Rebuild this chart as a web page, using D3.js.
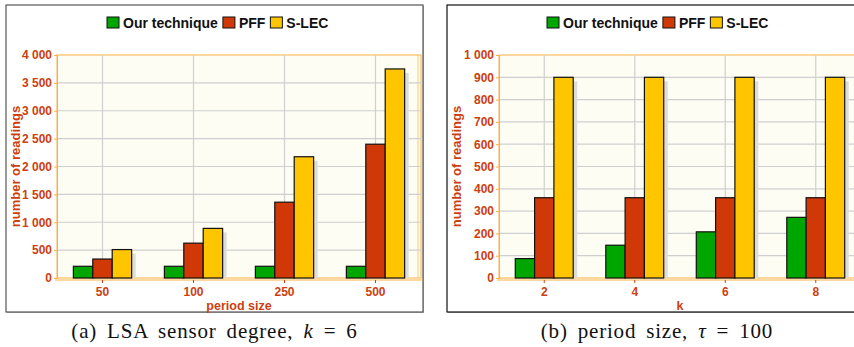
<!DOCTYPE html>
<html>
<head>
<meta charset="utf-8">
<script src="https://cdn.jsdelivr.net/npm/d3@7"></script>
<style>
  body { margin: 0; background: #fff; }
  svg { display: block; }
  .tick text { font-family: "Liberation Sans", Arial, sans-serif; font-weight: bold; }
</style>
</head>
<body>
<svg id="chart" width="854" height="347"></svg>
<script>
// data
var seriesNames = ["Our technique", "PFF", "S-LEC"]
var seriesColors = ["#00a600", "#d03808", "#ffc600"]

var periodSizes = ["50", "100", "250", "500"]
var ourTechA = [210, 210, 210, 210]
var pffA = [340, 625, 1360, 2400]
var slecA = [510, 890, 2175, 3750]
var yTicksA = [0, 500, 1000, 1500, 2000, 2500, 3000, 3500, 4000]

var kValues = ["2", "4", "6", "8"]
var ourTechB = [87, 147, 207, 272]
var pffB = [360, 360, 360, 360]
var slecB = [900, 900, 900, 900]
var yTicksB = [0, 100, 200, 300, 400, 500, 600, 700, 800, 900, 1000]

var axisColor = "#cc4010"
var fmt = d3.formatLocale({decimal: ".", thousands: " ", grouping: [3], currency: ["", ""]}).format(",d")

var svg = d3.select("#chart")

var drawPanel = function(p){
  var g = svg.append("g")

  // frame
  g.append("rect")
    .attr("x", p.frame[0] + 1).attr("y", p.frame[1] + 1)
    .attr("width", p.frame[2] - p.frame[0]).attr("height", p.frame[3] - p.frame[1])
    .attr("fill", "#b4b4b4")
  g.append("rect")
    .attr("x", p.frame[0]).attr("y", p.frame[1])
    .attr("width", p.frame[2] - p.frame[0]).attr("height", p.frame[3] - p.frame[1])
    .attr("fill", "#fff").attr("stroke", p.frameColor).attr("stroke-width", 1.2)

  var xScale = d3.scaleBand()
    .domain(p.cats)
    .range([p.left, p.right])
    .paddingInner(0.36)
    .paddingOuter(0.18)

  var xInner = d3.scaleBand()
    .domain(seriesNames)
    .range([0, xScale.bandwidth()])

  var yScale = d3.scaleLinear()
    .domain([0, p.yMax])
    .range([p.bottom, p.top])

  // plot background
  g.append("rect")
    .attr("x", p.left).attr("y", p.top)
    .attr("width", p.right - p.left).attr("height", p.bottom - p.top)
    .attr("fill", "#fdfdf4")
    .attr("stroke", "#fbb040").attr("stroke-width", 1)
  g.append("line")
    .attr("x1", p.right - 3).attr("x2", p.right - 3)
    .attr("y1", p.top).attr("y2", p.bottom)
    .attr("stroke", "#fbc878")

  // grid
  g.selectAll(".hgrid")
    .data(p.yTicks.slice(1, -1))
    .enter()
    .append("line")
    .attr("x1", p.left).attr("x2", p.right)
    .attr("y1", function(d){ return yScale(d) })
    .attr("y2", function(d){ return yScale(d) })
    .attr("stroke", "#cfcfcf").attr("stroke-width", 1.2)
  g.selectAll(".vgrid")
    .data(p.cats)
    .enter()
    .append("line")
    .attr("x1", function(d){ return xScale(d) + xScale.bandwidth()/2 })
    .attr("x2", function(d){ return xScale(d) + xScale.bandwidth()/2 })
    .attr("y1", p.top).attr("y2", p.bottom)
    .attr("stroke", "#cfcfcf").attr("stroke-width", 1.2)

  var rows = []
  p.cats.forEach(function(c, i){
    p.series.forEach(function(s, j){
      rows.push({cat: c, name: seriesNames[j], value: s[i], color: seriesColors[j]})
    })
  })

  // shadows
  g.selectAll(".shadow")
    .data(rows)
    .enter()
    .append("rect")
    .attr("x", function(d){ return xScale(d.cat) + xInner(d.name) + 4 })
    .attr("y", function(d){ return yScale(d.value) + 4 })
    .attr("width", xInner.bandwidth())
    .attr("height", function(d){ return p.bottom - yScale(d.value) - 4 })
    .attr("fill", "#dcdcd8")

  g.selectAll(".bar")
    .data(rows)
    .enter()
    .append("rect")
    .attr("x", function(d){ return xScale(d.cat) + xInner(d.name) })
    .attr("y", function(d){ return yScale(d.value) })
    .attr("width", xInner.bandwidth())
    .attr("height", function(d){ return p.bottom - yScale(d.value) })
    .attr("fill", function(d){ return d.color })
    .attr("stroke", "#111").attr("stroke-width", 1.2)

  // axes
  var yAxis = d3.axisLeft(yScale).tickValues(p.yTicks).tickFormat(fmt).tickSize(3).tickPadding(2)
  var ya = g.append("g")
    .attr("transform", "translate(" + p.left + ",0)")
    .call(yAxis)
  ya.select(".domain").attr("stroke", "#fbb040")
  ya.selectAll(".tick line").attr("stroke", "#fbb040")
  ya.selectAll(".tick text").attr("fill", axisColor).attr("font-size", 12)

  var xAxis = d3.axisBottom(xScale).tickSize(3).tickPadding(4)
  var xa = g.append("g")
    .attr("transform", "translate(0," + (p.bottom + 2) + ")")
    .call(xAxis)
  xa.select(".domain").attr("stroke", "#fbb040").attr("d", "M" + (p.left - 2) + ",0H" + (p.right + 2))
  xa.selectAll(".tick line").attr("stroke", axisColor)
  xa.selectAll(".tick text").attr("fill", axisColor).attr("font-size", 12)

  g.append("text")
    .attr("x", (p.left + p.right)/2).attr("y", 309.5)
    .attr("text-anchor", "middle")
    .attr("font-family", "Liberation Sans, Arial, sans-serif")
    .attr("font-weight", "bold").attr("font-size", 12.5)
    .attr("fill", axisColor)
    .text(p.xTitle)

  g.append("text")
    .attr("transform", "translate(" + (p.frame[0] + 14) + "," + ((p.top + p.bottom)/2) + ") rotate(-90)")
    .attr("text-anchor", "middle")
    .attr("font-family", "Liberation Sans, Arial, sans-serif")
    .attr("font-weight", "bold").attr("font-size", 13)
    .attr("fill", axisColor)
    .text("number of readings")

  // legend
  var lg = g.append("g").attr("transform", "translate(" + p.legendX + ",17)")
  var xpos = 0
  seriesNames.forEach(function(name, i){
    lg.append("rect")
      .attr("x", xpos).attr("y", 0)
      .attr("width", 12).attr("height", 11)
      .attr("fill", seriesColors[i]).attr("stroke", "#111").attr("stroke-width", 1)
    var t = lg.append("text")
      .attr("x", xpos + 16).attr("y", 11)
      .attr("font-family", "Liberation Sans, Arial, sans-serif")
      .attr("font-weight", "bold").attr("font-size", 14)
      .attr("fill", "#111")
      .text(name)
    xpos += 16 + t.node().getComputedTextLength() + 5
  })

  // caption
  var cap = svg.append("text")
    .attr("x", (p.frame[0] + p.frame[2])/2).attr("y", 338)
    .attr("text-anchor", "middle")
    .attr("font-family", "Liberation Serif, 'DejaVu Serif', serif")
    .attr("font-size", 21)
    .attr("letter-spacing", 0.8)
    .attr("word-spacing", 4)
    .attr("fill", "#111")
  cap.append("tspan").text(p.caption[0])
  cap.append("tspan").attr("font-style", "italic").text(p.caption[1])
  cap.append("tspan").text(p.caption[2])
}

drawPanel({
  frame: [6, 5, 423, 312], frameColor: "#555",
  left: 57, right: 421, top: 55, bottom: 278,
  cats: periodSizes, series: [ourTechA, pffA, slecA],
  yMax: 4000, yTicks: yTicksA,
  xTitle: "period size", legendX: 107,
  caption: ["(a) LSA sensor degree, ", "k", " = 6"]
})

drawPanel({
  frame: [447, 5, 867, 312], frameColor: "#111",
  left: 499, right: 861, top: 55, bottom: 278,
  cats: kValues, series: [ourTechB, pffB, slecB],
  yMax: 1000, yTicks: yTicksB,
  xTitle: "k", legendX: 547,
  caption: ["(b) period size, ", "\u03c4", " = 100"]
})
</script>
</body>
</html>
